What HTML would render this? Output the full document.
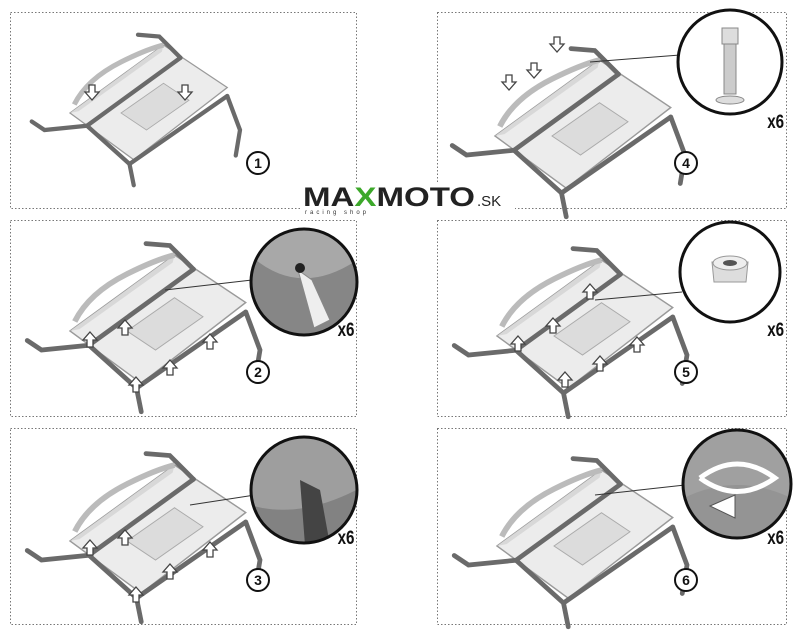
<!DOCTYPE html>
<html><head><meta charset="utf-8"><style>
html,body{margin:0;padding:0;background:#fff;}
svg{display:block;font-family:"Liberation Sans",sans-serif;}
</style></head><body>
<svg width="800" height="639" viewBox="0 0 800 639" xmlns="http://www.w3.org/2000/svg">
<defs>
<g id="seat">
  <polygon points="0,80 110,0 185,50 75,135" fill="#ececec" stroke="#9a9a9a" stroke-width="1.5"/>
  <polygon points="10,78 108,8 110,0 0,80" fill="#d8d8d8"/>
  <path d="M5,70 Q20,40 60,20 Q90,5 110,0" fill="none" stroke="#bbb" stroke-width="6"/>
  <polygon points="60,80 110,45 140,65 90,100" fill="#dcdcdc" stroke="#aaa"/>
  <g stroke="#6a6a6a" stroke-width="5" fill="none" stroke-linecap="round">
    <line x1="20" y1="95" x2="130" y2="15"/>
    <line x1="70" y1="140" x2="185" y2="60"/>
    <line x1="20" y1="95" x2="70" y2="140"/>
    <path d="M130,15 L105,-10 L80,-12"/>
    <path d="M185,60 L200,100 L195,130"/>
    <path d="M20,95 L-30,100 L-45,90"/>
    <path d="M70,140 L75,165"/>
  </g>
</g>
<g id="arrow"><polygon points="0,-8 7,0 3,0 3,7 -3,7 -3,0 -7,0" fill="#fff" stroke="#444" stroke-width="1.3"/></g>
<clipPath id="c2"><circle cx="304" cy="282" r="52"/></clipPath>
<clipPath id="c3"><circle cx="304" cy="490" r="52"/></clipPath>
<clipPath id="c6"><circle cx="737" cy="484" r="53"/></clipPath>
</defs>

<g fill="none" stroke="#777" stroke-width="1" stroke-dasharray="1.5,2">
<rect x="10.5" y="12.5" width="346" height="196"/>
<rect x="437.5" y="12.5" width="349" height="196"/>
<rect x="10.5" y="220.5" width="346" height="196"/>
<rect x="437.5" y="220.5" width="349" height="196"/>
<rect x="10.5" y="428.5" width="346" height="196"/>
<rect x="437.5" y="428.5" width="349" height="196"/>
</g>

<use href="#seat" transform="translate(70,45) scale(0.85)"/>
<use href="#arrow" transform="translate(92,92) rotate(180)"/>
<use href="#arrow" transform="translate(185,92) rotate(180)"/>
<use href="#seat" transform="translate(495,60) scale(0.95)"/>
<use href="#arrow" transform="translate(557,44) rotate(180)"/>
<use href="#arrow" transform="translate(534,70) rotate(180)"/>
<use href="#arrow" transform="translate(509,82) rotate(180)"/>
<use href="#seat" transform="translate(70,255) scale(0.95)"/>
<use href="#seat" transform="translate(497,260) scale(0.95)"/>
<use href="#seat" transform="translate(70,465) scale(0.95)"/>
<use href="#seat" transform="translate(497,470) scale(0.95)"/>

<g>
<use href="#arrow" transform="translate(90,340)"/><use href="#arrow" transform="translate(125,328)"/>
<use href="#arrow" transform="translate(210,342)"/><use href="#arrow" transform="translate(170,368)"/>
<use href="#arrow" transform="translate(136,385)"/>
<use href="#arrow" transform="translate(590,292)"/><use href="#arrow" transform="translate(518,344)"/>
<use href="#arrow" transform="translate(553,326)"/><use href="#arrow" transform="translate(600,364)"/>
<use href="#arrow" transform="translate(637,345)"/><use href="#arrow" transform="translate(565,380)"/>
<use href="#arrow" transform="translate(90,548)"/><use href="#arrow" transform="translate(125,538)"/>
<use href="#arrow" transform="translate(210,550)"/><use href="#arrow" transform="translate(170,572)"/>
<use href="#arrow" transform="translate(136,595)"/>
</g>

<g stroke="#333" stroke-width="1">
<line x1="590" y1="62" x2="680" y2="55"/>
<line x1="165" y1="290" x2="252" y2="280"/>
<line x1="595" y1="300" x2="682" y2="292"/>
<line x1="190" y1="505" x2="255" y2="495"/>
<line x1="595" y1="495" x2="685" y2="485"/>
</g>

<circle cx="730" cy="62" r="52" fill="#fff"/>
<circle cx="304" cy="282" r="53" fill="#a8a8a8"/>
<circle cx="730" cy="272" r="50" fill="#fff"/>
<circle cx="304" cy="490" r="53" fill="#9e9e9e"/>
<circle cx="737" cy="484" r="54" fill="#a0a0a0"/>

<rect x="722" y="28" width="16" height="16" fill="#ddd" stroke="#888"/>
<rect x="724" y="44" width="12" height="50" fill="#ccc" stroke="#888"/>
<ellipse cx="730" cy="100" rx="14" ry="4" fill="#ddd" stroke="#888"/>
<g clip-path="url(#c2)">
<path d="M250,255 Q300,300 360,258 L360,340 L250,340Z" fill="#6f6f6f" opacity=".6"/>
<polygon points="298,270 312,280 330,320 314,328" fill="#eee" stroke="#888"/>
<circle cx="300" cy="268" r="5" fill="#222"/>
</g>
<polygon points="712,262 748,262 746,282 714,282" fill="#ddd" stroke="#999"/>
<ellipse cx="730" cy="263" rx="17" ry="7" fill="#eee" stroke="#999"/>
<ellipse cx="730" cy="263" rx="7" ry="3" fill="#555"/>
<g clip-path="url(#c3)">
<path d="M250,505 Q300,520 360,488 L360,550 L250,550Z" fill="#6f6f6f" opacity=".6"/>
<polygon points="300,480 320,490 330,545 305,545" fill="#444"/>
</g>
<g clip-path="url(#c6)">
<path d="M680,500 Q737,470 795,500 L795,540 L680,540Z" fill="#888" opacity=".5"/>
<path d="M700,478 Q737,450 775,478 Q737,505 700,478" fill="none" stroke="#fff" stroke-width="5"/>
<polygon points="710,506 735,495 735,518" fill="#fff" stroke="#555"/>
</g>
<g stroke="#111" stroke-width="3" fill="none">
<circle cx="730" cy="62" r="52"/>
<circle cx="304" cy="282" r="53"/>
<circle cx="730" cy="272" r="50"/>
<circle cx="304" cy="490" r="53"/>
<circle cx="737" cy="484" r="54"/>
</g>

<g font-weight="bold" font-size="19" fill="#111" transform="scale(0.8,1)">
<text x="959" y="128">x6</text>
<text x="422" y="336">x6</text>
<text x="959" y="336">x6</text>
<text x="422" y="544">x6</text>
<text x="959" y="544">x6</text>
</g>

<g fill="#fff" stroke="#111" stroke-width="2">
<circle cx="258" cy="163" r="11"/><circle cx="686" cy="163" r="11"/>
<circle cx="258" cy="372" r="11"/><circle cx="686" cy="372" r="11"/>
<circle cx="258" cy="580" r="11"/><circle cx="686" cy="580" r="11"/>
</g>
<g font-size="14" font-weight="bold" text-anchor="middle" fill="#111">
<text x="258" y="168">1</text><text x="686" y="168">4</text>
<text x="258" y="377">2</text><text x="686" y="377">5</text>
<text x="258" y="585">3</text><text x="686" y="585">6</text>
</g>

<rect x="300" y="184" width="215" height="30" fill="#fff"/>
<text x="303" y="206" font-size="27" font-weight="bold" fill="#222" textLength="172" lengthAdjust="spacingAndGlyphs">MA<tspan fill="#3ca82a">X</tspan>MOTO</text>
<text x="477" y="206" font-size="15" fill="#222">.SK</text>
<text x="305" y="214" font-size="6" fill="#333" letter-spacing="3">racing shop</text>
</svg>
</body></html>
